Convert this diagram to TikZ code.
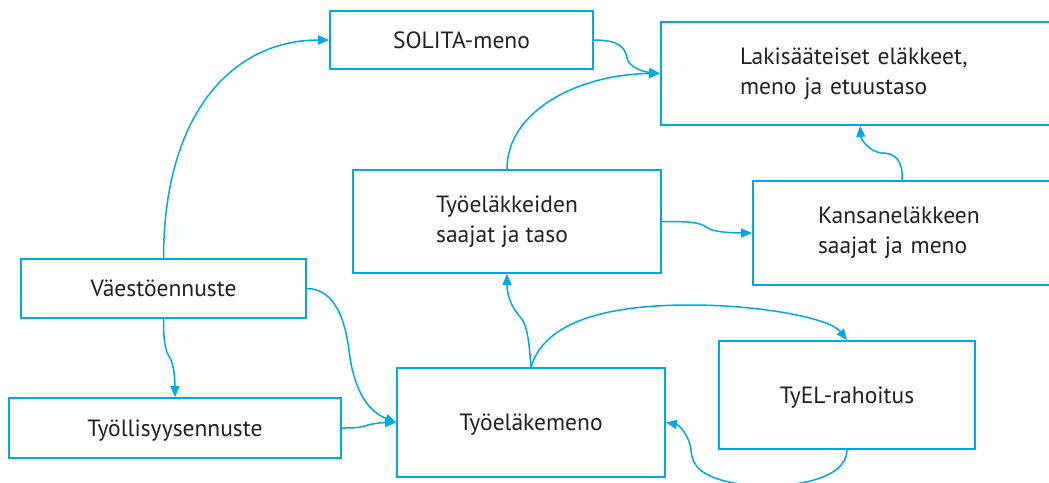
\documentclass[tikz,border=0pt]{standalone}
\usepackage{fontspec}
\setmainfont{PT Sans}
\usetikzlibrary{arrows.meta,calc}
\definecolor{cblue}{RGB}{0,169,230}
\definecolor{ctext}{RGB}{35,31,32}
\begin{document}
\begin{tikzpicture}[x=1pt,y=-1pt,
  box/.style={draw=cblue,line width=1.8pt,rectangle,inner sep=0pt,text=ctext,font=\fontsize{23.5}{30}\selectfont},
  oneline/.style={text height=16.5pt,text depth=0pt},
  conn/.style={draw=cblue,line width=1.5pt,-{Triangle[length=11pt,width=9pt]}}]
\useasboundingbox (0,0) rectangle (1049,482);
\clip (0,0) rectangle (1049,482);
\node[box,oneline,minimum width=263pt,minimum height=58pt] (sol) at (461.5,40) {SOLITA-meno};
\node[box,minimum width=458pt,minimum height=103pt,align=left,text width=300pt,inner xsep=79pt] (lak) at (890,73.5) {Lakisääteiset eläkkeet,\\meno ja etuustaso};
\node[box,minimum width=308pt,minimum height=103pt,align=left] (tyk) at (507,221.5) {Työeläkkeiden\\saajat ja taso};
\node[box,minimum width=420pt,minimum height=104pt,align=left,text width=290pt,inner xsep=65pt] (kan) at (963,233) {Kansaneläkkeen\\saajat ja meno};
\node[box,oneline,minimum width=285pt,minimum height=59pt] (vae) at (163.5,288.5) {Väestöennuste};
\node[box,oneline,minimum width=332pt,minimum height=60pt] (tyl) at (175,428) {Työllisyysennuste};
\node[box,oneline,minimum width=268pt,minimum height=109pt] (tem) at (531,422.5) {Työeläkemeno};
\node[box,oneline,minimum width=256pt,minimum height=108pt] (tyel) at (847,395) {TyEL-rahoitus};

\draw[conn] (vae.north) .. controls (164,110) and (235,40) .. (sol.west);
\draw[conn] (sol.east) .. controls (620,40) and (625,48) .. (627,58) .. controls (629,68) and (645,72) .. (lak.west);
\draw[conn] (tyk.north) .. controls (507,110) and (580,74) .. (lak.west);
\draw[conn] (tyk.east) .. controls (690,221.5) and (700,222) .. (708,228) .. controls (712,232) and (735,233) .. (kan.west);
\draw[conn] ($(kan.north west)+(150,0)$) .. controls (903,160) and (895,153) .. (882,153) .. controls (870,152) and (861,140) .. ($(lak.south west)+(200,0)$);
\draw[conn] (tem.north) .. controls (529,340) and (527,325) .. (521,318) .. controls (515,311) and (507,300) .. (tyk.south);
\draw[conn] (tem.north) .. controls (545,320) and (610,305) .. (690,305) .. controls (760,305) and (830,318) .. (tyel.north);
\draw[conn] (tyel.south) .. controls (847,480) and (790,490) .. (740,484) .. controls (700,478) and (692,465) .. (691,450) .. controls (690,438) and (680,425) .. (tem.east);
\draw[conn] (vae.south) .. controls (163.5,345) and (166,352) .. (170,358) .. controls (174,365) and (175,380) .. (tyl.north);
\draw[conn] (vae.east) .. controls (335,289) and (345,320) .. (349,350) .. controls (353,385) and (365,410) .. (tem.west);
\draw[conn] (tyl.east) .. controls (352,428) and (360,428) .. (368,425) .. controls (375,423) and (385,422.5) .. (tem.west);
\end{tikzpicture}
\end{document}
